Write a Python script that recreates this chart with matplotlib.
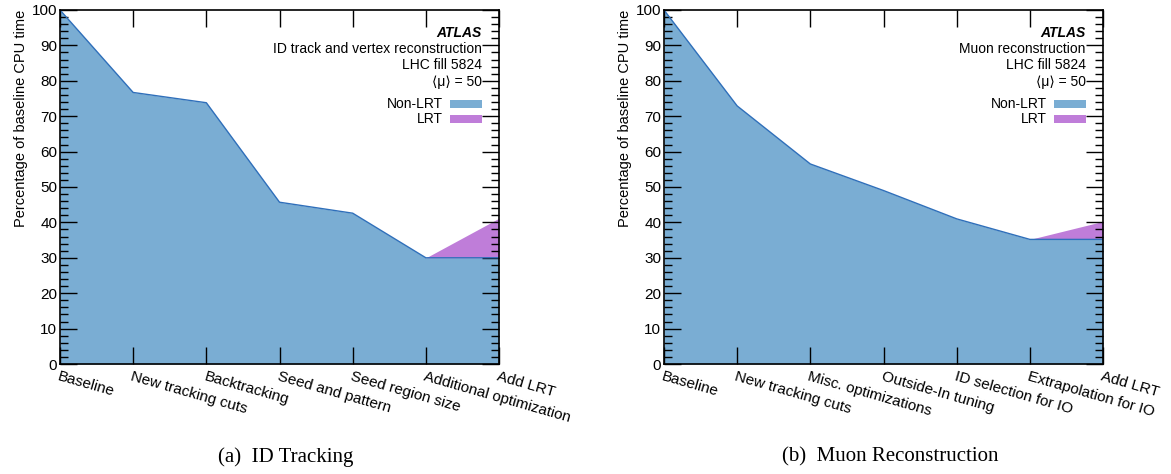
import matplotlib
matplotlib.use("Agg")
import matplotlib.pyplot as plt
import matplotlib.transforms as mtrans
import numpy as np
from matplotlib.patches import Rectangle
from matplotlib.ticker import MultipleLocator

plt.rcParams['font.family'] = ['Liberation Sans', 'DejaVu Sans']

# ID tracking
id_steps = ["Baseline", "New tracking cuts", "Backtracking", "Seed and pattern",
            "Seed region size", "Additional optimization", "Add LRT"]
id_nonlrt = [100, 76.7, 73.8, 45.7, 42.6, 30.0, 30.0]
id_lrt = [0, 0, 0, 0, 0, 0, 11.2]

# Muon reconstruction
mu_steps = ["Baseline", "New tracking cuts", "Misc. optimizations", "Outside-In tuning",
            "ID selection for IO", "Extrapolation for IO", "Add LRT"]
mu_nonlrt = [100, 72.9, 56.5, 49.0, 41.0, 35.2, 35.2]
mu_lrt = [0, 0, 0, 0, 0, 0, 5.1]

blue = "#7aadd3"
edge = "#2f6fba"
purple = "#bf7dd9"

fig = plt.figure(figsize=(11.71, 4.74), dpi=100)


def panel(left, steps, nonlrt, lrt, title, caption, cap_x):
    ax = fig.add_axes([left, 0.232, 0.375, 0.747])
    x = np.arange(len(steps))
    nonlrt = np.array(nonlrt)
    total = nonlrt + np.array(lrt)
    ax.fill_between(x, 0, nonlrt, color=blue, lw=0)
    ax.fill_between(x[-2:], nonlrt[-2:], total[-2:], color=purple, lw=0)
    ax.plot(x, nonlrt, color=edge, lw=1)
    ax.set_xlim(0, len(steps) - 1)
    ax.set_ylim(0, 100)
    ax.set_xticks(x)
    ax.set_xticklabels(steps, rotation=-16, ha="left", va="top",
                       rotation_mode="anchor", fontsize=11)
    shift = mtrans.ScaledTranslation(3 / 100, 0, fig.dpi_scale_trans)
    for lab in ax.get_xticklabels():
        lab.set_transform(lab.get_transform() + shift)
    ax.yaxis.set_major_locator(MultipleLocator(10))
    ax.yaxis.set_minor_locator(MultipleLocator(2))
    ax.tick_params(axis="both", which="both", direction="in", top=True, right=True,
                   width=1)
    ax.tick_params(axis="y", labelsize=11)
    ax.tick_params(axis="both", which="major", length=12)
    ax.tick_params(axis="y", which="minor", length=6)
    ax.tick_params(axis="x", which="major", pad=4)
    ax.tick_params(axis="y", which="major", pad=2)
    for s in ax.spines.values():
        s.set_linewidth(1.2)
    ax.set_ylabel("Percentage of baseline CPU time", loc="top", fontsize=10.5, labelpad=3)

    tx = 0.96
    ax.text(tx, 0.935, "ATLAS", transform=ax.transAxes, ha="right", va="center",
            fontsize=10, fontweight="bold", fontstyle="italic")
    ax.text(tx, 0.89, title, transform=ax.transAxes, ha="right", va="center", fontsize=10)
    ax.text(tx, 0.845, "LHC fill 5824", transform=ax.transAxes, ha="right", va="center", fontsize=10)
    ax.text(tx, 0.797, "⟨μ⟩ = 50", transform=ax.transAxes, ha="right", va="center", fontsize=10)

    for lab, col, yy in [("Non-LRT", blue, 0.735), ("LRT", purple, 0.692)]:
        ax.add_patch(Rectangle((0.889, yy - 0.012), 0.071, 0.024, transform=ax.transAxes,
                               facecolor=col, edgecolor="none", zorder=5))
        ax.text(0.872, yy, lab, transform=ax.transAxes, ha="right", va="center", fontsize=10)

    fig.text(cap_x / 1171, 0.036, caption, ha="center", va="center",
             fontsize=15, family="Liberation Serif")
    return ax


panel(0.0512, id_steps, id_nonlrt, id_lrt, "ID track and vertex reconstruction",
      "(a)  ID Tracking", 286)
panel(0.567, mu_steps, mu_nonlrt, mu_lrt, "Muon reconstruction",
      "(b)  Muon Reconstruction", 890)

fig.savefig("out.png", dpi=100)
